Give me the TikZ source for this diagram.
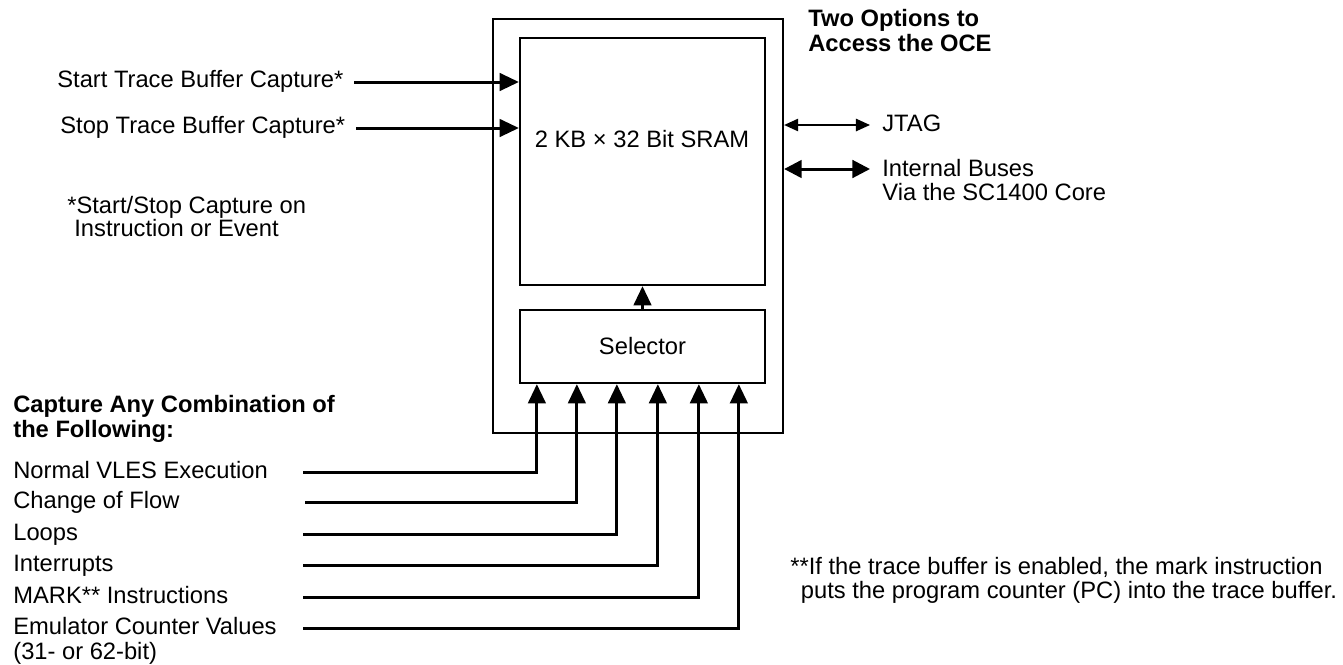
\documentclass[tikz,border=0pt]{standalone}
\usepackage{fontspec}
\setmainfont{Liberation Sans}
\usetikzlibrary{arrows.meta}

\begin{document}
\begin{tikzpicture}[x=0.02cm,y=-0.02cm]
      \useasboundingbox (0,0) rectangle (1343,664);
      \tikzset{B/.style = {shape=rectangle, draw, line width=1.3pt, inner sep=0pt}}
      \tikzset{T/.style = {font=\fontsize{13.5}{13.3}\selectfont, inner sep=0pt, align=left}}
      \tikzset{TB/.style = {T, font=\fontsize{13.5}{14}\selectfont\bfseries}}
      \tikzset{E/.style = {draw, line width=1.7pt, -{Triangle[length=11pt,width=10pt]}}}
      \tikzset{J/.style = {draw, line width=1pt, {Triangle[length=8pt,width=7pt]}-{Triangle[length=8pt,width=7pt]}}}
      \tikzset{D/.style = {draw, line width=1.7pt, {Triangle[length=10pt,width=10pt]}-{Triangle[length=10pt,width=10pt]}}}
      % blocks
      \node[B, minimum width=5.8cm, minimum height=8.28cm] (chip) at (638,226) {};
      \node[B, minimum width=4.9cm, minimum height=4.94cm] (sram) at (642.5,161.5) {};
      \node[T] (sramtxt) at (642,139) {2 KB × 32 Bit SRAM};
      \node[B, T, minimum width=4.9cm, minimum height=1.46cm] (sel) at (642.5,346.5) {Selector};
      % start / stop
      \node[T, anchor=base west] (start) at (57,87) {Start Trace Buffer Capture*};
      \node[T, anchor=base west] (stop) at (60,133) {Stop Trace Buffer Capture*};
      \coordinate (start0) at (354,82);
      \coordinate (stop0) at (356,128);
      \node[T, anchor=base west] (note) at (67,236) {*Start/Stop Capture on\\[-0.5pt]\hspace{4pt}Instruction or Event};
      % access
      \node[TB, anchor=base west] (opt) at (808,51) {Two Options to\\Access the OCE};
      \node[T, anchor=base west] (jtag) at (882,131) {JTAG};
      \node[T, anchor=base west] (bus) at (882,200) {Internal Buses\\Via the SC1400 Core};
      \coordinate (jtag0) at (870,125);
      \coordinate (bus0) at (870,169);
      % capture sources
      \node[TB, anchor=base west] (cap) at (13,437) {Capture Any Combination of\\the Following:};
      \node[T, anchor=base west] (r1) at (13,478) {Normal VLES Execution};
      \node[T, anchor=base west] (r2) at (13,508) {Change of Flow};
      \node[T, anchor=base west] (r3) at (13,540) {Loops};
      \node[T, anchor=base west] (r4) at (13,571) {Interrupts};
      \node[T, anchor=base west] (r5) at (13,603) {MARK** Instructions};
      \node[T, anchor=base west] (r6) at (13,634) {Emulator Counter Values};
      \node[T, anchor=base west] (r6b) at (13,659) {(31- or 62-bit)};
      \coordinate (i1) at (303,472);
      \coordinate (i2) at (305,502);
      \coordinate (i3) at (303,534);
      \coordinate (i4) at (303,565);
      \coordinate (i5) at (303,597);
      \coordinate (i6) at (303,628);
      \node[T, anchor=base west] (mark) at (790,598) {**If the trace buffer is enabled, the mark instruction\\\hspace{6pt}puts the program counter (PC) into the trace buffer.};
      % connections
      \draw[E] (start0) -- (start0 -| sram.west);
      \draw[E] (stop0) -- (stop0 -| sram.west);
      \draw[J] (jtag0 -| chip.east) -- (jtag0);
      \draw[D] (bus0 -| chip.east) -- (bus0);
      \draw[E] (sel.north) -- (sram.south);
      \draw[E] (i1) -| ([xshift=0.36cm]sel.south west);
      \draw[E] (i2) -| ([xshift=1.16cm]sel.south west);
      \draw[E] (i3) -| ([xshift=1.96cm]sel.south west);
      \draw[E] (i4) -| ([xshift=2.78cm]sel.south west);
      \draw[E] (i5) -| ([xshift=3.6cm]sel.south west);
      \draw[E] (i6) -| ([xshift=4.4cm]sel.south west);
\end{tikzpicture}
\end{document}
